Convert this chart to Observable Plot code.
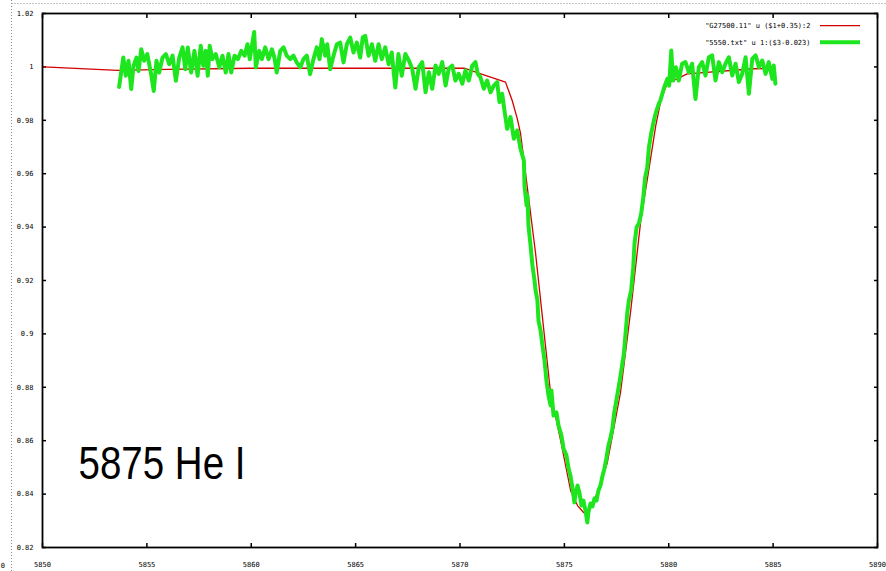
<!DOCTYPE html>
<html><head><meta charset="utf-8">
<script src="https://cdn.jsdelivr.net/npm/d3@7"></script>
<script src="https://cdn.jsdelivr.net/npm/@observablehq/plot@0.6"></script>
<style>body{margin:0;background:#fff}#chart{width:886px;height:571px}</style>
</head><body><div id="chart"></div>
<script>
const xTicks = [5850, 5855, 5860, 5865, 5870, 5875, 5880, 5885, 5890];
const yTicks = [0.82, 0.84, 0.86, 0.88, 0.9, 0.92, 0.94, 0.96, 0.98, 1, 1.02];
const yTickLabels = ["0.82", "0.84", "0.86", "0.88", "0.9", "0.92", "0.94", "0.96", "0.98", "1", "1.02"];
const legendLabels = ['"G27500.11" u ($1+0.35):2', '"5550.txt" u 1:($3-0.023)'];
const lineLabel = "5875 He I";

const modelWavelength = [5850, 5850.3, 5853.6, 5856, 5860, 5866.8, 5870.2, 5871.0, 5872.18, 5872.5, 5872.74, 5872.9, 5873.62, 5874.34, 5874.82, 5875.3, 5875.63, 5875.92, 5876.15, 5876.39, 5877.05, 5877.69, 5878.18, 5878.66, 5879.14, 5879.38, 5879.62, 5879.92, 5880.88, 5884.06, 5885.0];
const modelFlux = [1.0, 0.9999, 0.9987, 0.9991, 0.9995, 0.9995, 0.9995, 0.9974, 0.9943, 0.9874, 0.9807, 0.9751, 0.9302, 0.8777, 0.8601, 0.8413, 0.8357, 0.8331, 0.8335, 0.8365, 0.8515, 0.8781, 0.9088, 0.9425, 0.9661, 0.9781, 0.9874, 0.9937, 0.9974, 0.9993, 0.9994];

const obsWavelength = [
5853.67,5853.87,5853.99,5854.12,5854.25,5854.36,5854.50,5854.60,5854.73,5854.87,5855.02,5855.19,5855.33,5855.46,5855.59,5855.75,5855.91,5856.07,5856.23,5856.39,5856.55,5856.71,5856.84,5856.96,5857.12,5857.28,5857.43,5857.58,5857.70,5857.82,5857.92,5858.01,5858.14,5858.30,5858.47,5858.62,5858.78,5858.91,5859.04,5859.20,5859.36,5859.52,5859.68,5859.82,5859.93,5860.14,5860.22,5860.38,
5860.51,5860.67,5860.83,5860.99,5861.11,5861.22,5861.39,5861.55,5861.70,5861.87,5862.02,5862.18,5862.35,5862.50,5862.66,5862.82,5862.98,5863.14,5863.27,5863.38,5863.54,5863.64,5863.78,5863.94,5864.10,5864.26,5864.42,5864.58,5864.74,5864.90,5865.06,5865.22,5865.34,5865.46,5865.62,5865.78,5865.94,5866.10,5866.25,5866.42,5866.58,5866.73,5866.81,5866.90,5867.05,5867.21,5867.38,
5867.55,5867.71,5867.87,5868.03,5868.19,5868.35,5868.51,5868.67,5868.83,5868.98,5869.15,5869.31,5869.46,5869.63,5869.78,5869.94,5870.11,5870.26,5870.42,5870.59,5870.74,5870.85,5870.98,5871.14,5871.30,5871.46,5871.62,5871.78,5871.89,5872.02,5872.13,5872.26,5872.42,5872.58,5872.74,5872.90,5873.06,
5873.09,5873.19,5873.23,5873.28,5873.38,5873.47,5873.57,5873.62,5873.71,5873.76,5873.86,5873.95,5874.05,5874.14,5874.24,5874.34,5874.38,5874.48,5874.62,5874.72,5874.86,5874.96,5875.10,5875.20,5875.29,5875.39,5875.48,5875.53,5875.63,5875.72,5875.82,5875.91,5876.01,5876.10,5876.15,5876.25,5876.35,5876.44,5876.54,5876.63,5876.73,5876.82,5876.92,5877.01,5877.11,5877.20,5877.30,5877.39,5877.49,5877.59,5877.69,5877.85,5878.01,5878.09,5878.20,5878.30,5878.36,5878.46,5878.57,5878.68,5878.78,5878.87,5878.97,5879.05,5879.16,5879.26,5879.37,5879.53,
5879.60,5879.76,5879.93,5880.02,5880.12,5880.21,5880.34,5880.48,5880.64,5880.80,5880.96,5881.12,5881.28,5881.44,5881.60,5881.76,5881.92,5882.08,5882.24,5882.40,5882.56,5882.72,5882.88,5883.04,5883.20,5883.36,5883.52,5883.68,5883.84,5884.00,5884.16,5884.32,5884.48,5884.64,5884.79,5884.96,5885.03,5885.11];
const obsFlux = [
0.9925,1.0035,0.9967,1.0023,0.9917,1.0004,1.0035,0.9985,1.0066,1.0023,1.0048,0.9979,0.9910,1.0023,0.9979,1.0035,1.0048,1.0010,1.0042,0.9948,1.0035,1.0073,0.9991,1.0073,0.9979,1.0060,0.9967,1.0079,1.0004,1.0060,0.9967,1.0079,1.0029,1.0048,0.9998,1.0042,0.9979,1.0048,0.9979,1.0042,1.0029,1.0060,1.0042,1.0085,1.0029,1.0131,0.9998,1.0060,
1.0029,1.0073,1.0029,1.0066,1.0035,0.9979,1.0060,1.0073,1.0042,1.0029,1.0042,1.0017,0.9998,1.0029,1.0042,0.9973,1.0029,1.0073,1.0029,1.0104,1.0042,1.0085,0.9991,1.0042,1.0085,1.0091,1.0017,1.0085,1.0110,1.0054,1.0091,1.0035,1.0110,1.0116,1.0042,1.0085,1.0023,1.0085,1.0029,1.0073,1.0010,1.0054,0.9991,0.9923,1.0048,0.9967,1.0048,
1.0024,0.9993,0.9918,0.9999,1.0018,0.9905,0.9980,0.9918,1.0005,0.9974,1.0018,0.9930,0.9993,1.0005,0.9949,0.9974,0.9937,0.9987,0.9949,1.0005,1.0018,0.9974,0.9961,0.9918,0.9949,0.9905,0.9930,0.9943,0.9868,0.9899,0.9837,0.9768,0.9812,0.9731,0.9762,0.9693,0.9649,
0.9556,0.9481,0.9519,0.9406,0.9331,0.9256,0.9200,0.9163,0.9125,0.9050,0.9013,0.8957,0.8900,0.8825,0.8769,0.8732,0.8788,0.8694,0.8706,0.8657,0.8619,0.8571,0.8545,0.8496,0.8470,0.8421,0.8369,0.8398,0.8432,0.8406,0.8357,0.8376,0.8339,0.8294,0.8331,0.8365,0.8354,0.8384,0.8376,0.8413,0.8432,0.8466,0.8496,0.8533,0.8582,0.8608,0.8646,0.8706,0.8751,0.8796,0.8844,0.8925,0.9076,0.9125,0.9163,0.9249,0.9339,0.9399,0.9414,0.9451,0.9511,0.9586,0.9624,0.9699,0.9751,0.9789,0.9826,0.9863,
0.9874,0.9918,0.9955,0.9930,1.0061,0.9949,0.9999,0.9949,1.0012,1.0018,0.9980,1.0012,0.9880,0.9999,1.0018,0.9968,1.0036,1.0043,0.9949,1.0018,0.9980,1.0012,1.0036,0.9968,1.0012,0.9943,0.9974,1.0036,0.9899,1.0030,1.0043,0.9999,1.0024,0.9974,1.0018,0.9955,1.0005,0.9937];

const model = modelWavelength.map((x, i) => ({x, y: modelFlux[i]}));
const obs = obsWavelength.map((x, i) => ({x, y: obsFlux[i]}));

const tickFont = "'DejaVu Sans Mono', 'Liberation Mono', monospace";
const RED = "#d40000", GREEN = "#1ee61e";

const plot = Plot.plot({
  width: 886, height: 571,
  marginLeft: 42, marginRight: 9, marginTop: 13, marginBottom: 24,
  style: {background: "white", fontFamily: tickFont, fontSize: "7px", color: "#000"},
  x: {domain: [5850, 5890], label: null},
  y: {domain: [0.82, 1.02], label: null},
  marks: [
    Plot.axisX(xTicks, {anchor: "bottom", tickSize: 0, tickPadding: 15, tickFormat: d => String(d), label: null, fontSize: 7}),
    Plot.axisY(yTicks, {anchor: "left", tickSize: 0, tickPadding: 9, tickFormat: d => yTickLabels[yTicks.indexOf(d)], label: null, fontSize: 7}),
    Plot.axisX(xTicks, {anchor: "bottom", tickSize: 4, dy: -4, tickFormat: () => "", label: null, strokeWidth: 1.5}),
    Plot.axisX(xTicks, {anchor: "top", tickSize: 4, dy: 4, tickFormat: () => "", label: null, strokeWidth: 1.5}),
    Plot.axisY(yTicks, {anchor: "left", tickSize: 4, dx: 4, tickFormat: () => "", label: null, strokeWidth: 1.5}),
    Plot.axisY(yTicks, {anchor: "right", tickSize: 4, dx: -4, tickFormat: () => "", label: null, strokeWidth: 1.5}),
    Plot.line(model, {x: "x", y: "y", stroke: RED, strokeWidth: 1.3}),
    Plot.line(obs, {x: "x", y: "y", stroke: GREEN, strokeWidth: 4, strokeLinejoin: "round"}),
    Plot.text([legendLabels[0]], {text: d => d, frameAnchor: "top-right", textAnchor: "end", lineAnchor: "middle", dx: -67, dy: 12.7, fontSize: 7, fill: "#000"}),
    Plot.text([legendLabels[1]], {text: d => d, frameAnchor: "top-right", textAnchor: "end", lineAnchor: "middle", dx: -67, dy: 29.3, fontSize: 7, fill: "#000"}),
    Plot.text([lineLabel], {text: d => d, frameAnchor: "bottom-left", textAnchor: "start", lineAnchor: "bottom", dx: 36, dy: -69, fontSize: 46, fontFamily: "'Liberation Sans Narrow', 'Liberation Sans', Arial, sans-serif", fill: "#000"}),
    Plot.frame({stroke: "#000", strokeWidth: 1.8})
  ]
});
document.getElementById("chart").appendChild(plot);

// legend samples, big label width, window border (decoration)
const svg = d3.select(plot);
svg.selectAll("text").filter(function () { return d3.select(this).text() === lineLabel; })
  .attr("textLength", 167).attr("lengthAdjust", "spacingAndGlyphs");
const W = 886 - 9;
svg.append("line").attr("x1", W - 57).attr("x2", W - 17).attr("y1", 25.7).attr("y2", 25.7).attr("stroke", RED).attr("stroke-width", 1.3);
svg.append("line").attr("x1", W - 57).attr("x2", W - 17).attr("y1", 42.3).attr("y2", 42.3).attr("stroke", GREEN).attr("stroke-width", 4);
svg.append("line").attr("x1", 11.5).attr("x2", 11.5).attr("y1", 0).attr("y2", 571).attr("stroke", "#888").attr("stroke-dasharray", "1,2");
svg.append("line").attr("x1", 11.5).attr("x2", 886).attr("y1", 3.5).attr("y2", 3.5).attr("stroke", "#888").attr("stroke-dasharray", "1,2");
svg.append("text").attr("x", 5).attr("y", 568).attr("text-anchor", "end").attr("font-size", 7).attr("font-family", tickFont).text("0");
</script>
</body></html>
